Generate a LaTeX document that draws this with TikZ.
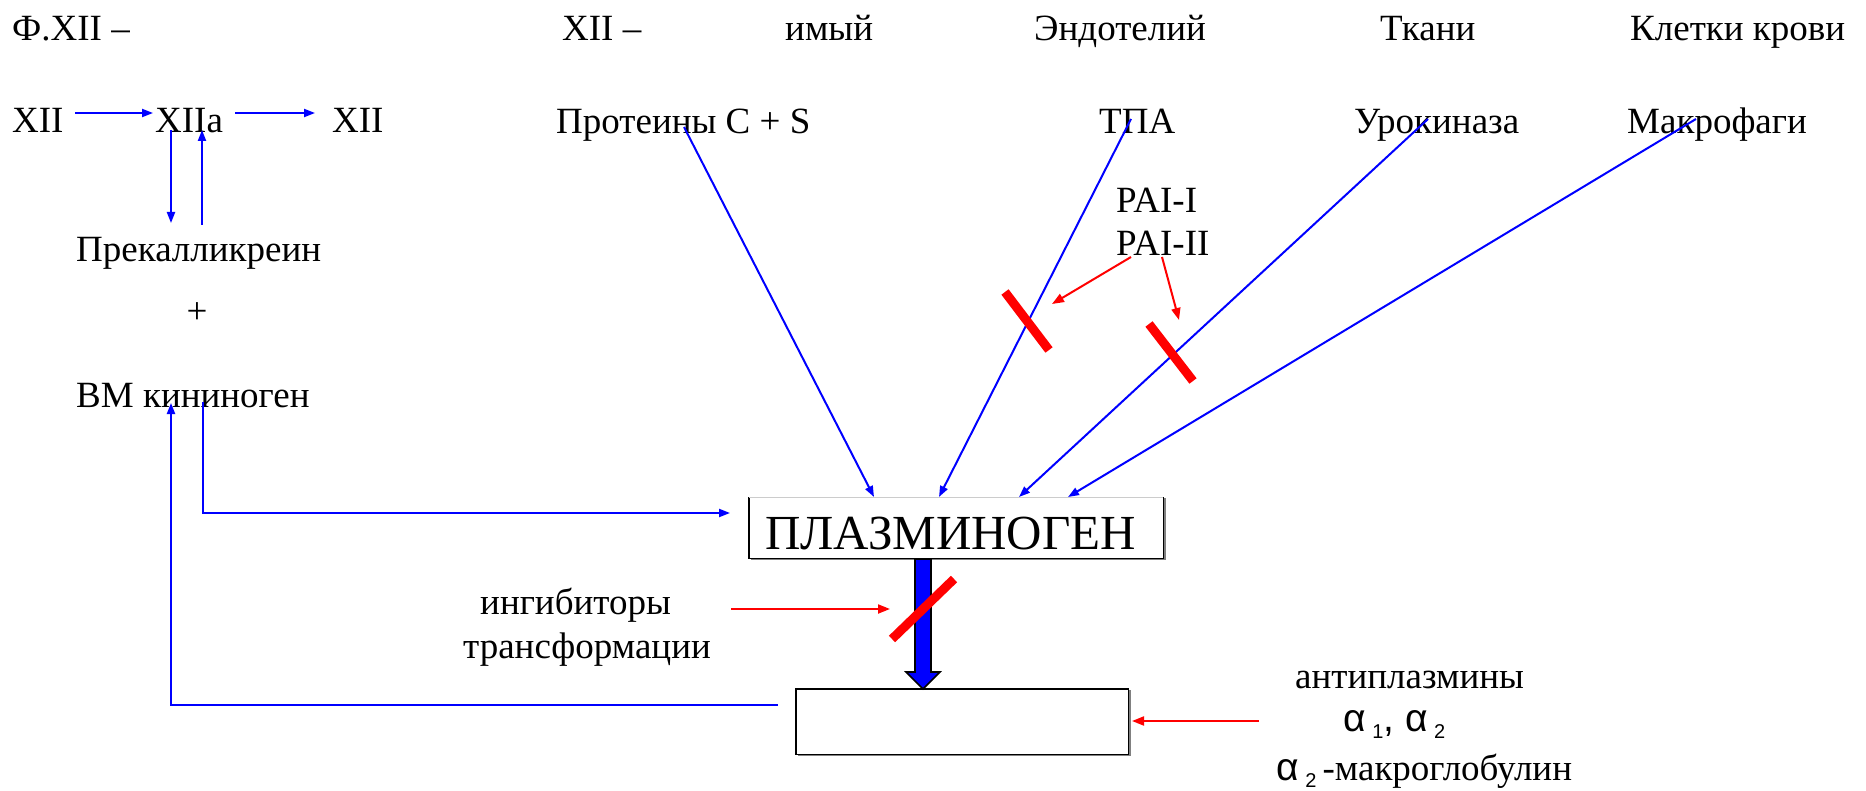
\documentclass[tikz,border=0pt]{standalone}
\usepackage{fontspec}
\setmainfont{Liberation Serif}
\newfontfamily\greeksans{Liberation Sans}
\usetikzlibrary{arrows.meta,calc}
\newcommand{\alphasub}[1]{{\greeksans\fontsize{39}{42}\selectfont α\,\raisebox{-7pt}{\fontsize{20}{22}\selectfont #1}}}
\begin{document}
\begin{tikzpicture}[x=1pt,y=-1pt,
  lbl/.style={anchor=base west,inner sep=0pt,font=\fontsize{37}{44}\selectfont},
  bline/.style={draw=blue,line width=2pt},
  barrow/.style={bline,-{Triangle[length=11pt,width=8pt]}},
  rarrow/.style={draw=red,line width=2pt,-{Triangle[length=12pt,width=9pt]}},
  blockbar/.style={draw=red,line width=9pt},
  boxshape/.style={fill=white,inner sep=0pt,anchor=north west},
  fatarrow/.style={fill=blue,draw=black,line width=1.6pt,line join=miter}]
\fill[white] (0,0) rectangle (1866,791);
\useasboundingbox (0,0) rectangle (1866,791);

% headings
\node[lbl] (fxii) at (12,41) {Ф.XII –};
\node[lbl] (xiidash) at (562,41) {XII –};
\node[lbl] (imyi) at (785,41) {имый};
\node[lbl] (endo) at (1034,41) {Эндотелий};
\node[lbl] (tkani) at (1380,41) {Ткани};
\node[lbl] (kletki) at (1630,41) {Клетки крови};

% sources
\node[lbl] (xiiA) at (12,133) {XII};
\node[lbl] (xiia) at (155,133) {XIIa};
\node[lbl] (xiiB) at (332,133) {XII};
\node[lbl] (prot) at (556,134) {Протеины C + S};
\node[lbl] (tpa) at (1099,134) {ТПА};
\node[lbl] (uro) at (1354,134) {Урокиназа};
\node[lbl] (makro) at (1627,134) {Макрофаги};

\node[lbl] (prek) at (76,262) {Прекалликреин};
\node[inner sep=0pt,font=\fontsize{37}{44}\selectfont] (plus) at (197,313) {+};
\node[lbl] (vmk) at (76,407) {ВМ кининоген};

\node[lbl] (pai1) at (1116,213) {PAI-I};
\node[lbl] (pai2) at (1116,256) {PAI-II};

\node[lbl] (ingib) at (480,614) {ингибиторы};
\node[lbl] (transf) at (463,658) {трансформации};

\node[lbl] (antipl) at (1295,688) {антиплазмины};
\node[anchor=base west,inner sep=0pt] (alph) at (1343,731) {\alphasub{1}{\greeksans\fontsize{39}{42}\selectfont, }\alphasub{2}};
\node[lbl] (macrog) at (1276,780) {\alphasub{2}\,-макроглобулин};

% plasminogen box
\node[boxshape,minimum width=414pt,minimum height=61pt] (plg) at (749,497) {};
\draw[gray,line width=2pt] ([shift={(1.5pt,-1pt)}]plg.south west) -- ([shift={(1.5pt,-1pt)}]plg.south east) -- ([shift={(1.5pt,-1pt)}]plg.north east);
\draw[black,line width=1.2pt] (plg.north east) -- (plg.south east) -- (plg.south west) -- (plg.north west);
\draw[gray!40,line width=1pt] (plg.north west) -- (plg.north east);
\node[anchor=base west,inner sep=0pt,font=\fontsize{49}{56}\selectfont] (plgtxt) at (765,549) {ПЛАЗМИНОГЕН};

% product box
\node[boxshape,minimum width=332pt,minimum height=65pt] (prod) at (796,689) {};
\draw[gray,line width=2pt] ([shift={(1.5pt,-1pt)}]prod.south west) -- ([shift={(1.5pt,-1pt)}]prod.south east) -- ([shift={(1.5pt,-1pt)}]prod.north east);
\draw[black,line width=1.2pt] (prod.north west) rectangle (prod.south east);

% connector end points
\coordinate (xiiAout) at (75,113);
\coordinate (xiiain) at (153,113);
\coordinate (xiiaout) at (235,113);
\coordinate (xiiBin) at (315,113);
\coordinate (xiiadown) at (171,130);
\coordinate (prekin) at (171,223);
\coordinate (prekout) at (202,225);
\coordinate (xiiaup) at (202,130);
\coordinate (prodout) at (778,705);
\coordinate (loopcorner) at (171,705);
\coordinate (vmkin) at (171,403);
\coordinate (vmkout) at (203,402);
\coordinate (vmkcorner) at (203,513);
\coordinate (plgleft) at (730,513);
\coordinate (protout) at (684,127);
\coordinate (tpaout) at (1131,119);
\coordinate (urout) at (1428,119);
\coordinate (makout) at (1696,119);
\coordinate (plgA) at (874,497);
\coordinate (plgB) at (939,497);
\coordinate (plgC) at (1019,497);
\coordinate (plgD) at (1068,497);
\coordinate (paiA) at (1131,257);
\coordinate (paiB) at (1162,257);
\coordinate (cutA) at (1052,304);
\coordinate (cutB) at (1179,320);
\coordinate (ingout) at (731,609);
\coordinate (ingcut) at (890,609);
\coordinate (antiout) at (1259,721);
\coordinate (prodright) at (1132,721);

% contact activation chain
\draw[barrow] (xiiAout) -- (xiiain);
\draw[barrow] (xiiaout) -- (xiiBin);
\draw[barrow] (xiiadown) -- (prekin);
\draw[barrow] (prekout) -- (xiiaup);
\draw[barrow] (prodout) -- (loopcorner) -- (vmkin);
\draw[barrow] (vmkout) -- (vmkcorner) -- (plgleft);

% activators of plasminogen
\draw[barrow] (protout) -- (plgA);
\draw[barrow] (tpaout) -- (plgB);
\draw[barrow] (urout) -- (plgC);
\draw[barrow] (makout) -- (plgD);

% transformation arrow
\draw[fatarrow] (915,559) -- (931,559) -- (931,672) -- (940,672) -- (923,689) -- (906,672) -- (915,672) -- cycle;

% inhibitors
\draw[rarrow] (paiA) -- (cutA);
\draw[rarrow] (paiB) -- (cutB);
\draw[rarrow] (ingout) -- (ingcut);
\draw[rarrow] (antiout) -- (prodright);
\draw[blockbar] (1005,292) -- (1049,350);
\draw[blockbar] (1149,324) -- (1193,381);
\draw[blockbar] (892,639) -- (954,579);
\end{tikzpicture}
\end{document}
